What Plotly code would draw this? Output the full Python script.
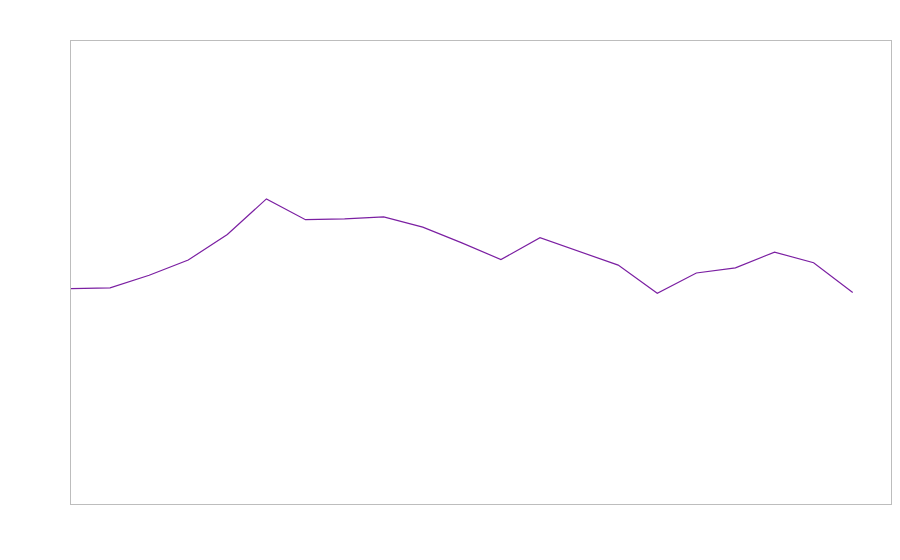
import plotly.graph_objects as go

x_index = list(range(21))
values = [46.5, 46.7, 49.4, 52.7, 58.2, 65.9, 61.4, 61.6, 62.0, 59.8, 56.4,
          52.8, 57.5, 54.5, 51.6, 45.5, 49.9, 51.0, 54.4, 52.1, 45.7]

fig = go.Figure()
fig.add_trace(go.Scatter(x=x_index, y=values, mode="lines",
                         line=dict(color="#7b1fa2", width=1.2),
                         showlegend=False, hoverinfo="skip"))

axis_style = dict(showgrid=False, zeroline=False, showticklabels=False,
                  ticks="", showline=True, mirror=True,
                  linecolor="#bdbdbd", linewidth=1)
fig.update_xaxes(range=[0, 20.98], **axis_style)
fig.update_yaxes(range=[0, 100], **axis_style)
fig.update_layout(width=884, height=544,
                  margin=dict(l=63, r=1, t=33, b=48),
                  paper_bgcolor="white", plot_bgcolor="white")
fig.write_html("out.html")
